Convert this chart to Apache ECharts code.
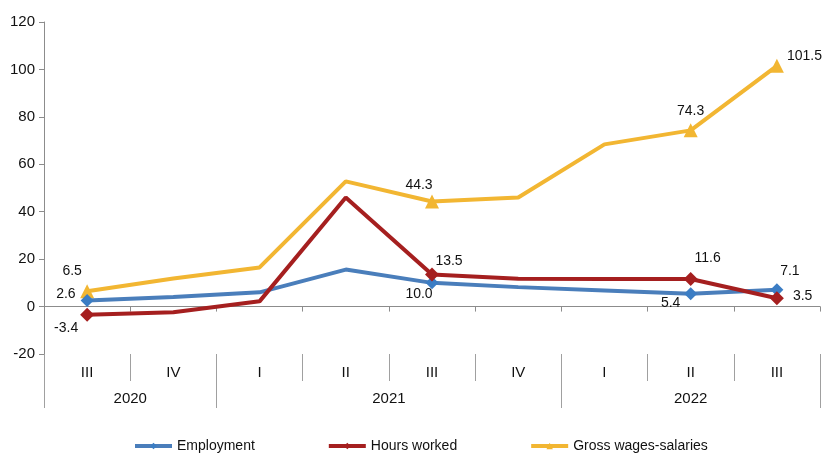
<!DOCTYPE html>
<html>
<head>
<meta charset="utf-8">
<script src="https://cdn.jsdelivr.net/npm/echarts@6/dist/echarts.min.js"></script>
<style>
html,body{margin:0;padding:0;background:#fff;}
#chart{width:833px;height:459px;}
</style>
</head>
<body>
<div id="chart"></div>
<script>
const quarters = ['III','IV','I','II','III','IV','I','II','III'];
const years = ['2020','2021','2022'];
const quartersPerYear = [2,4,3];
const employment = [2.6, 4.0, 6.0, 15.6, 10.0, 8.2, 6.8, 5.4, 7.1];
const hoursWorked = [-3.4, -2.4, 2.2, 46.0, 13.5, 11.7, 11.6, 11.6, 3.5];
const grossWages = [6.5, 11.8, 16.5, 52.8, 44.3, 46.0, 68.4, 74.3, 101.5];
const labelledPoints = [0, 4, 7, 8];
const yTicks = {min: -20, max: 120, interval: 20};

// label placement (style only)
const labelPlacement = {
  emp: {0:['left',[0,-6]],4:['bottom',[-13,-7]],7:['bottom',[-20,-9]],8:['top',[13,0]]},
  hrs: {0:['bottom',[-21,-5]],4:['top',[17,6]],7:['top',[17,-2]],8:['right',[4,-2]]},
  grs: {0:['top',[-15,-1]],4:['top',[-13,3]],7:['top',[0,0]],8:['right',[-2,-10]]}
};

// year axis in half-quarter units
const nHalf = quarters.length * 2 + 1;
const yearBoundaries = [0];
const yearCenterIdx = {};
let acc = 0;
quartersPerYear.forEach((n, i) => {
  yearCenterIdx[acc * 2 + n] = years[i];
  acc += n;
  yearBoundaries.push(acc * 2);
});
const yearAxisData = [];
for (let i = 0; i < nHalf; i++) yearAxisData.push(yearCenterIdx[i] || '');

function buildData(values, key, symbolSize) {
  return values.map((v, i) => {
    const marked = labelledPoints.indexOf(i) >= 0;
    const item = {value: v, symbolSize: marked ? symbolSize : 0};
    if (marked) {
      const p = labelPlacement[key][i];
      item.label = {show: true, position: p[0], offset: p[1], formatter: v.toFixed(1)};
    }
    return item;
  });
}

const FONT = 'Liberation Sans, Arial, sans-serif';
const textStyle = {fontFamily: FONT, fontSize: 14, color: '#111'};
const axisText = {fontFamily: FONT, fontSize: 15, color: '#111'};
const chart = echarts.init(document.getElementById('chart'), null, {renderer: 'canvas'});
chart.setOption({
  animation: false,
  backgroundColor: '#fff',
  textStyle: {fontFamily: FONT},
  grid: {left: 44, right: 13, top: 22, bottom: 105, containLabel: false},
  legend: {
    top: 434, left: 128,
    itemWidth: 37, itemHeight: 8, itemGap: 72,
    lineStyle: {width: 4},
    textStyle: {fontFamily: FONT, fontSize: 14, color: '#111'},
    data: ['Employment', 'Hours worked', 'Gross wages-salaries']
  },
  xAxis: [
    {
      type: 'category', data: quarters, boundaryGap: true, position: 'bottom',
      axisLine: {onZero: true, lineStyle: {color: '#8c8c8c', width: 1}},
      axisTick: {show: true, length: 5, inside: false, lineStyle: {color: '#8c8c8c'}},
      axisLabel: {show: false}
    },
    {
      type: 'category', data: quarters, boundaryGap: true, position: 'bottom',
      axisLine: {show: false, onZero: false},
      axisTick: {show: true, length: 27, lineStyle: {color: '#a0a0a0'}},
      axisLabel: Object.assign({margin: 11, interval: 0}, axisText)
    },
    {
      type: 'category', data: yearAxisData, boundaryGap: false, position: 'bottom',
      axisLine: {show: false, onZero: false},
      axisTick: {show: true, length: 54, interval: (i) => yearBoundaries.indexOf(i) >= 0, lineStyle: {color: '#a0a0a0'}},
      axisLabel: Object.assign({margin: 37, interval: (i) => !!yearCenterIdx[i]}, axisText)
    }
  ],
  yAxis: {
    type: 'value', min: yTicks.min, max: yTicks.max, interval: yTicks.interval,
    axisLine: {show: true, lineStyle: {color: '#8c8c8c'}},
    axisTick: {show: true, length: 5, lineStyle: {color: '#8c8c8c'}},
    splitLine: {show: false},
    axisLabel: Object.assign({margin: 9}, axisText)
  },
  series: [
    {
      name: 'Employment', type: 'line', xAxisIndex: 0, symbol: 'diamond',
      showAllSymbol: true,
      data: buildData(employment, 'emp', 13),
      lineStyle: {color: '#4a7ebb', width: 4},
      itemStyle: {color: '#3b7dc4'},
      label: textStyle, z: 3
    },
    {
      name: 'Hours worked', type: 'line', xAxisIndex: 0, symbol: 'diamond',
      showAllSymbol: true,
      data: buildData(hoursWorked, 'hrs', 14),
      lineStyle: {color: '#a51f1f', width: 4},
      itemStyle: {color: '#a51f1f'},
      label: textStyle, z: 4
    },
    {
      name: 'Gross wages-salaries', type: 'line', xAxisIndex: 0, symbol: 'triangle',
      showAllSymbol: true,
      data: buildData(grossWages, 'grs', 14),
      lineStyle: {color: '#f2b632', width: 4},
      itemStyle: {color: '#f2b632'},
      label: textStyle, z: 2
    }
  ]
});
</script>
</body>
</html>
